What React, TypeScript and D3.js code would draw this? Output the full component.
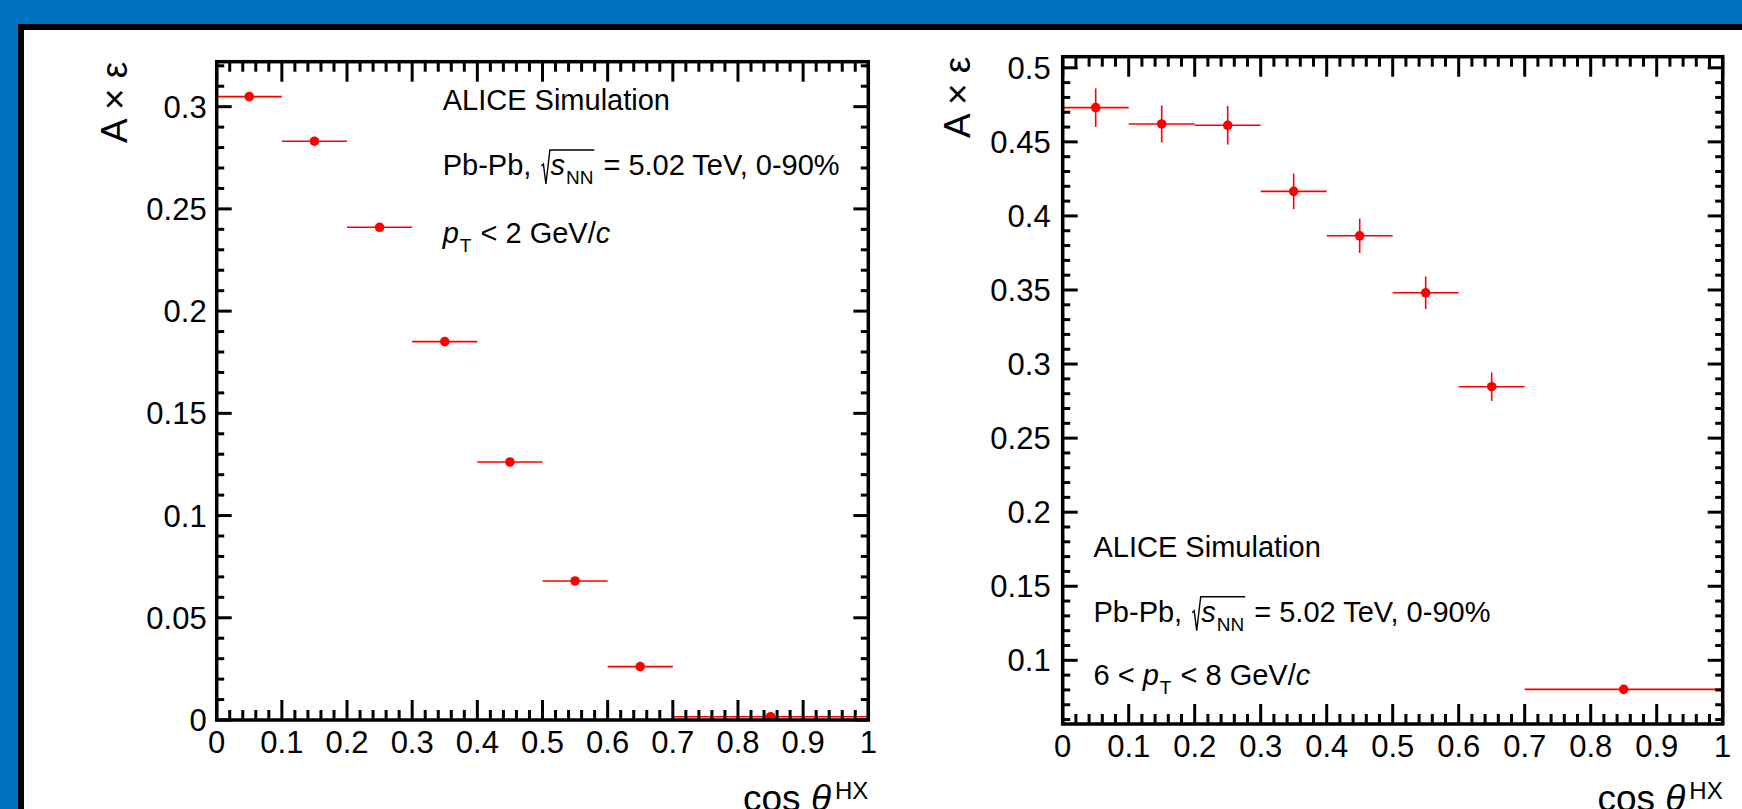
import React from 'react';
import * as d3 from 'd3';

// ---------- DATA ----------
const binLo = [0, 0.1, 0.2, 0.3, 0.4, 0.5, 0.6, 0.7];
const binHi = [0.1, 0.2, 0.3, 0.4, 0.5, 0.6, 0.7, 1.0];
const binCenter = [0.05, 0.15, 0.25, 0.35, 0.45, 0.55, 0.65, 0.85];

const lowPtValues = [0.3049, 0.2831, 0.241, 0.1851, 0.1262, 0.068, 0.0261, 0.0016];
const lowPtErrors = [0.0008, 0.0008, 0.0007, 0.0006, 0.0005, 0.0004, 0.0003, 0.0001];

const highPtValues = [0.4731, 0.4621, 0.4612, 0.4166, 0.3866, 0.3481, 0.2847, 0.0804];
const highPtErrors = [0.013, 0.0125, 0.013, 0.012, 0.0116, 0.011, 0.0096, 0.0015];

const xTickValues = [0, 0.1, 0.2, 0.3, 0.4, 0.5, 0.6, 0.7, 0.8, 0.9, 1];
const xTickLabels = ['0', '0.1', '0.2', '0.3', '0.4', '0.5', '0.6', '0.7', '0.8', '0.9', '1'];

const lowPtYTickValues = [0, 0.05, 0.1, 0.15, 0.2, 0.25, 0.3];
const lowPtYTickLabels = ['0', '0.05', '0.1', '0.15', '0.2', '0.25', '0.3'];

const highPtYTickValues = [0.1, 0.15, 0.2, 0.25, 0.3, 0.35, 0.4, 0.45, 0.5];
const highPtYTickLabels = ['0.1', '0.15', '0.2', '0.25', '0.3', '0.35', '0.4', '0.45', '0.5'];

// ---------- STYLE / LAYOUT ----------
const W = 1742;
const H = 809;
const FONT = "'Liberation Sans', Arial, Helvetica, sans-serif";
const RED = '#ff0000';
const TICK_FS = 31;
const TITLE_FS = 37;
const TEXT_FS = 29;
const SUB_FS = 19;

let ctx: CanvasRenderingContext2D | null = null;
function measure(text: string, size: number, italic = false): number {
  if (!ctx) ctx = document.createElement('canvas').getContext('2d');
  if (!ctx) return text.length * size * 0.55;
  ctx.font = `${italic ? 'italic ' : ''}${size}px ${FONT}`;
  return ctx.measureText(text).width;
}

type Seg = { t: string; it?: boolean; sub?: boolean };

function RichLine({ x, y, segs }: { x: number; y: number; segs: Seg[] }) {
  let cx = x;
  const els: React.ReactNode[] = [];
  segs.forEach((s, i) => {
    const size = s.sub ? SUB_FS : TEXT_FS;
    const lead = s.t.length - s.t.trimStart().length;
    const leadW = lead > 0 ? measure(' '.repeat(lead), size) : 0;
    const txt = s.t.trim();
    const sx = cx + leadW + (s.sub ? 1 : 0);
    els.push(
      <text key={i} x={sx} y={s.sub ? y + 9 : y} fontSize={size} fontStyle={s.it ? 'italic' : 'normal'} fill="#000">
        {txt}
      </text>
    );
    cx = cx + measure(s.t, size, s.it) + (s.sub ? 2 : 0);
  });
  return <g fontFamily={FONT}>{els}</g>;
}

function SqrtLine({ x, y }: { x: number; y: number }) {
  const w1 = measure('Pb-Pb, ', TEXT_FS);
  const rx = x + w1 + 2;
  const sX = rx + 9;
  const sW = measure('s', TEXT_FS, true);
  const nnX = sX + sW + 1;
  const nnW = measure('NN', SUB_FS);
  const overEnd = nnX + nnW + 1;
  const restX = overEnd + measure(' ', TEXT_FS) + 1;
  const top = y - 25;
  return (
    <g fontFamily={FONT} fill="#000">
      <text x={x} y={y} fontSize={TEXT_FS}>Pb-Pb,</text>
      <path
        d={`M${rx},${y - 9} L${rx + 2},${y - 11} L${rx + 4.5},${y + 9} L${rx + 8.5},${top} L${overEnd},${top}`}
        fill="none"
        stroke="#000"
        strokeWidth={1.4}
      />
      <text x={sX} y={y} fontSize={TEXT_FS} fontStyle="italic">s</text>
      <text x={nnX} y={y + 9} fontSize={SUB_FS}>NN</text>
      <text x={restX} y={y} fontSize={TEXT_FS}>= 5.02 TeV, 0-90%</text>
    </g>
  );
}

type PanelCfg = {
  x0: number; x1: number; yTop: number; yBot: number;
  yDomain: [number, number];
  yTicks: number[]; yLabels: string[];
  values: number[]; errors: number[];
  labelGap: number; yTitleX: number;
  textX: number; textY: number[];
  ptSegs: Seg[];
};

function Panel({ c }: { c: PanelCfg }) {
  const x = d3.scaleLinear().domain([0, 1]).range([c.x0, c.x1]);
  const y = d3.scaleLinear().domain(c.yDomain).range([c.yBot, c.yTop]);
  const xMinor = d3.range(0, 51).map((i) => i / 50).filter((v) => Math.abs(v * 10 - Math.round(v * 10)) > 1e-6);
  const yMinor = d3
    .range(Math.ceil(c.yDomain[0] * 100 - 1e-6), Math.floor(c.yDomain[1] * 100 + 1e-6) + 1)
    .map((i) => i / 100)
    .filter((v) => Math.abs(v * 20 - Math.round(v * 20)) > 1e-6);
  const XMAJ = 20, XMIN = 10, YMAJ = 15, YMIN = 7.5;
  const tw = 3;
  return (
    <g>
      {/* data */}
      <g stroke={RED} strokeWidth={1.6}>
        {c.values.map((v, i) => (
          <g key={i}>
            <line x1={x(binLo[i])} x2={x(binHi[i])} y1={y(v)} y2={y(v)} />
            <line x1={x(binCenter[i])} x2={x(binCenter[i])} y1={y(v - c.errors[i])} y2={y(v + c.errors[i])} />
          </g>
        ))}
      </g>
      {c.values.map((v, i) => (
        <circle key={i} cx={x(binCenter[i])} cy={y(v)} r={4.8} fill={RED} />
      ))}
      {/* ticks */}
      <g stroke="#000" strokeWidth={tw}>
        {xTickValues.map((v, i) => (
          <g key={'xm' + i}>
            <line x1={x(v)} x2={x(v)} y1={c.yBot} y2={c.yBot - XMAJ} />
            <line x1={x(v)} x2={x(v)} y1={c.yTop} y2={c.yTop + XMAJ} />
          </g>
        ))}
        {xMinor.map((v, i) => (
          <g key={'xn' + i}>
            <line x1={x(v)} x2={x(v)} y1={c.yBot} y2={c.yBot - XMIN} />
            <line x1={x(v)} x2={x(v)} y1={c.yTop} y2={c.yTop + XMIN} />
          </g>
        ))}
        {c.yTicks.map((v, i) => (
          <g key={'ym' + i}>
            <line x1={c.x0} x2={c.x0 + YMAJ} y1={y(v)} y2={y(v)} />
            <line x1={c.x1} x2={c.x1 - YMAJ} y1={y(v)} y2={y(v)} />
          </g>
        ))}
        {yMinor.map((v, i) => (
          <g key={'yn' + i}>
            <line x1={c.x0} x2={c.x0 + YMIN} y1={y(v)} y2={y(v)} />
            <line x1={c.x1} x2={c.x1 - YMIN} y1={y(v)} y2={y(v)} />
          </g>
        ))}
      </g>
      <rect x={c.x0} y={c.yTop} width={c.x1 - c.x0} height={c.yBot - c.yTop} fill="none" stroke="#000" strokeWidth={3.5} />
      {/* tick labels */}
      <g fontFamily={FONT} fontSize={TICK_FS} fill="#000">
        {xTickValues.map((v, i) => (
          <text key={'xl' + i} x={x(v)} y={c.yBot + 33} textAnchor="middle">
            {xTickLabels[i]}
          </text>
        ))}
        {c.yTicks.map((v, i) => (
          <text key={'yl' + i} x={c.x0 - c.labelGap} y={y(v) + 11} textAnchor="end">
            {c.yLabels[i]}
          </text>
        ))}
      </g>
      {/* axis titles */}
      <text
        transform={`translate(${c.yTitleX},${c.yTop}) rotate(-90)`}
        textAnchor="end"
        fontFamily={FONT}
        fontSize={TITLE_FS}
        fill="#000"
      >
        A × ε
      </text>
      <text x={c.x1} y={811} textAnchor="end" fontFamily={FONT} fontSize={TITLE_FS} fill="#000">
        <tspan>cos </tspan>
        <tspan fontStyle="italic">θ</tspan>
        <tspan dx={4} dy={-12} fontSize={24}>HX</tspan>
      </text>
      {/* annotations */}
      <RichLine x={c.textX} y={c.textY[0]} segs={[{ t: 'ALICE Simulation' }]} />
      <SqrtLine x={c.textX} y={c.textY[1]} />
      <RichLine x={c.textX} y={c.textY[2]} segs={c.ptSegs} />
    </g>
  );
}

const leftCfg: PanelCfg = {
  x0: 216.7, x1: 868.3, yTop: 61.7, yBot: 720,
  yDomain: [0, 0.322],
  yTicks: lowPtYTickValues, yLabels: lowPtYTickLabels,
  values: lowPtValues, errors: lowPtErrors,
  labelGap: 10, yTitleX: 127,
  textX: 442.7, textY: [110, 175, 243.3],
  ptSegs: [{ t: 'p', it: true }, { t: 'T', sub: true }, { t: ' < 2 GeV/' }, { t: 'c', it: true }],
};

const rightCfg: PanelCfg = {
  x0: 1062.7, x1: 1722.7, yTop: 56.7, yBot: 724,
  yDomain: [0.057, 0.5075],
  yTicks: highPtYTickValues, yLabels: highPtYTickLabels,
  values: highPtValues, errors: highPtErrors,
  labelGap: 12, yTitleX: 970,
  textX: 1093.5, textY: [557.3, 621.7, 685],
  ptSegs: [{ t: '6 < ' }, { t: 'p', it: true }, { t: 'T', sub: true }, { t: ' < 8 GeV/' }, { t: 'c', it: true }],
};

export default function App() {
  return (
    <svg
      width={W}
      height={H}
      viewBox={`0 0 ${W} ${H}`}
      style={{ position: 'fixed', left: 0, top: 0, display: 'block' }}
    >
      <rect x={0} y={0} width={W} height={H} fill="#0070C0" />
      <rect x={18} y={24} width={W - 18} height={H - 24} fill="#000" />
      <rect x={24} y={30} width={W - 24} height={H - 30} fill="#fff" />
      <Panel c={leftCfg} />
      <Panel c={rightCfg} />
    </svg>
  );
}
